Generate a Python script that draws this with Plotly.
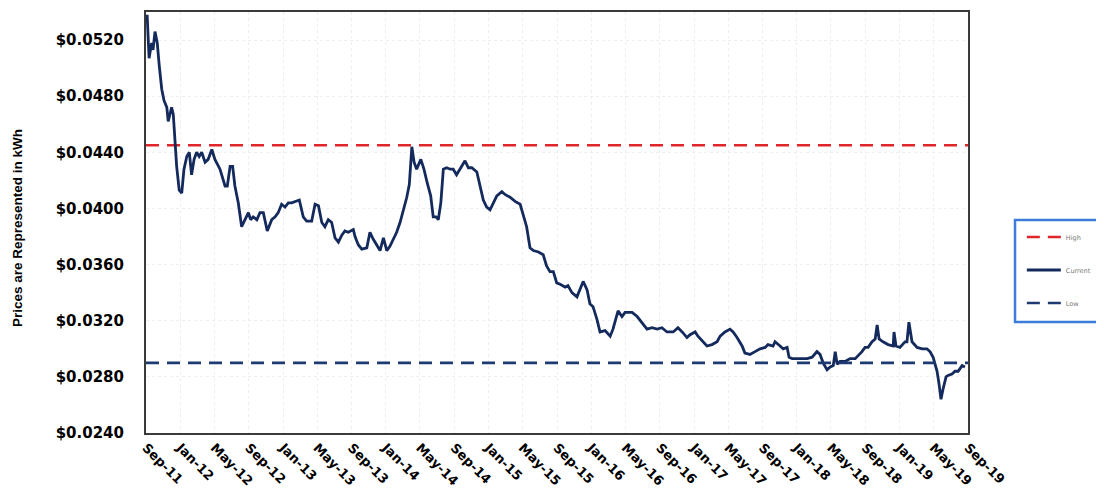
import plotly.graph_objects as go

dates = [
"2011-09-05","2011-09-12","2011-09-21","2011-09-26","2011-10-03","2011-10-11","2011-10-18","2011-10-27",
"2011-11-04","2011-11-14","2011-11-19","2011-12-01","2011-12-07","2011-12-13","2011-12-19","2011-12-28",
"2012-01-06","2012-01-14","2012-01-24","2012-02-02","2012-02-10","2012-02-19","2012-02-28","2012-03-08",
"2012-03-17","2012-03-29","2012-04-09","2012-04-22","2012-05-03","2012-05-21","2012-06-08","2012-06-16",
"2012-06-26","2012-07-05","2012-07-13","2012-07-25","2012-08-06","2012-08-18","2012-08-30","2012-09-07",
"2012-09-16","2012-09-29","2012-10-10","2012-10-22","2012-11-05","2012-11-21","2012-12-03","2012-12-14",
"2012-12-26","2013-01-07","2013-01-19","2013-01-31","2013-02-12","2013-02-27","2013-03-13","2013-03-25",
"2013-04-12","2013-04-24","2013-05-06","2013-05-18","2013-05-29","2013-06-10","2013-06-22","2013-07-04",
"2013-07-16","2013-07-28","2013-08-08","2013-08-20","2013-09-07","2013-09-13","2013-09-25","2013-10-07",
"2013-10-25","2013-11-05","2013-11-17","2013-11-29","2013-12-11","2013-12-23","2014-01-04","2014-01-15",
"2014-01-27","2014-02-08","2014-02-20","2014-03-04","2014-03-16","2014-03-25","2014-04-03","2014-04-11",
"2014-04-20","2014-05-05","2014-05-16","2014-05-28","2014-06-09","2014-06-18","2014-06-28","2014-07-06",
"2014-07-15","2014-07-24","2014-08-05","2014-08-17","2014-08-28","2014-09-09","2014-09-21","2014-10-09",
"2014-10-21","2014-11-02","2014-11-20","2014-12-01","2014-12-13","2014-12-25","2015-01-06","2015-01-18",
"2015-01-30","2015-02-17","2015-02-28","2015-03-18","2015-04-05","2015-04-23","2015-05-04","2015-05-16",
"2015-05-28","2015-06-09","2015-06-27","2015-07-14","2015-07-26","2015-08-07","2015-08-19","2015-08-31",
"2015-09-12","2015-09-30","2015-10-10","2015-10-24","2015-11-11","2015-11-22","2015-12-03","2015-12-17",
"2015-12-27","2016-01-07","2016-01-21","2016-02-01","2016-02-19","2016-03-08","2016-03-18","2016-04-05",
"2016-04-19","2016-04-30","2016-05-25","2016-06-12","2016-06-29","2016-07-17","2016-08-04","2016-08-22",
"2016-09-08","2016-09-26","2016-10-18","2016-11-04","2016-11-19","2016-12-06","2016-12-17","2017-01-04",
"2017-01-14","2017-02-01","2017-02-15","2017-03-05","2017-03-23","2017-04-03","2017-04-20","2017-05-08",
"2017-05-19","2017-06-02","2017-06-20","2017-06-30","2017-07-18","2017-08-05","2017-08-23","2017-09-10",
"2017-09-20","2017-10-08","2017-10-15","2017-11-02","2017-11-13","2017-11-27","2017-12-04","2017-12-15",
"2018-01-01","2018-01-19","2018-02-06","2018-02-24","2018-03-13","2018-03-24","2018-04-04","2018-04-18",
"2018-04-29","2018-05-10","2018-05-17","2018-05-24","2018-06-03","2018-06-21","2018-07-09","2018-07-27",
"2018-08-06","2018-08-20","2018-08-31","2018-09-11","2018-09-25","2018-10-06","2018-10-13","2018-10-20",
"2018-11-03","2018-11-21","2018-12-09","2018-12-12","2018-12-19","2019-01-02","2019-01-20","2019-01-27",
"2019-02-03","2019-02-14","2019-03-04","2019-03-22","2019-04-08","2019-04-19","2019-04-30","2019-05-07",
"2019-05-14","2019-05-21","2019-05-28","2019-06-04","2019-06-15","2019-06-22","2019-07-06","2019-07-17",
"2019-07-28","2019-08-11","2019-08-21",
]

current_price = [
0.0538,0.0507,0.0518,0.0513,0.0526,0.0518,0.0502,0.0485,
0.0477,0.0472,0.0462,0.0472,0.0467,0.0449,0.0430,0.0413,
0.0411,0.0428,0.0437,0.0440,0.0424,0.0435,0.0440,0.0437,
0.0440,0.0433,0.0435,0.0442,0.0435,0.0428,0.0416,0.0416,
0.0430,0.0430,0.0416,0.0404,0.0387,0.0392,0.0397,0.0392,
0.0394,0.0392,0.0397,0.0397,0.0384,0.0392,0.0394,0.0397,
0.0403,0.0401,0.0404,0.0404,0.0405,0.0406,0.0394,0.0391,
0.0391,0.0403,0.0402,0.0390,0.0387,0.0392,0.0390,0.0379,
0.0376,0.0381,0.0384,0.0383,0.0385,0.0380,0.0374,0.0371,
0.0372,0.0383,0.0378,0.0374,0.0370,0.0379,0.0370,0.0373,
0.0378,0.0383,0.0390,0.0399,0.0408,0.0417,0.0444,0.0433,
0.0428,0.0435,0.0428,0.0418,0.0409,0.0394,0.0394,0.0392,
0.0404,0.0428,0.0429,0.0428,0.0428,0.0424,0.0428,0.0434,
0.0429,0.0429,0.0426,0.0416,0.0406,0.0401,0.0399,0.0404,
0.0409,0.0412,0.0410,0.0408,0.0405,0.0403,0.0396,0.0387,
0.0372,0.0370,0.0369,0.0367,0.0359,0.0355,0.0355,0.0347,
0.0346,0.0344,0.0345,0.0340,0.0337,0.0342,0.0348,0.0342,
0.0332,0.0330,0.0321,0.0312,0.0313,0.0309,0.0314,0.0327,
0.0323,0.0326,0.0326,0.0323,0.0319,0.0314,0.0315,0.0314,
0.0315,0.0312,0.0312,0.0315,0.0312,0.0308,0.0310,0.0312,
0.0309,0.0305,0.0302,0.0303,0.0305,0.0309,0.0312,0.0314,
0.0312,0.0308,0.0302,0.0297,0.0296,0.0298,0.0300,0.0301,
0.0303,0.0302,0.0305,0.0302,0.0300,0.0301,0.0294,0.0293,
0.0293,0.0293,0.0293,0.0294,0.0298,0.0296,0.0290,0.0285,
0.0287,0.0288,0.0298,0.0289,0.0291,0.0291,0.0293,0.0293,
0.0295,0.0298,0.0301,0.0301,0.0305,0.0307,0.0317,0.0307,
0.0305,0.0303,0.0302,0.0312,0.0302,0.0301,0.0305,0.0305,
0.0319,0.0305,0.0301,0.0300,0.0300,0.0298,0.0294,0.0289,
0.0284,0.0275,0.0264,0.0271,0.0280,0.0281,0.0282,0.0284,
0.0284,0.0288,0.0287,
]

high_price = 0.0445
low_price = 0.0290
range_start = "2011-09-01"
range_end = "2019-09-01"
y_tick_values = [0.0240, 0.0280, 0.0320, 0.0360, 0.0400, 0.0440, 0.0480, 0.0520]
series_names = ["High", "Current", "Low"]
y_title = "Prices are Represented in kWh"

fig = go.Figure()

fig.add_trace(go.Scatter(
    x=[range_start, range_end], y=[high_price, high_price], mode="lines",
    name=series_names[0], legendgroup="g1",
    line=dict(color="#e0262a", width=2.6, dash="13px,8px"),
    hoverinfo="skip",
))
fig.add_trace(go.Scatter(
    x=dates, y=current_price, mode="lines",
    name=series_names[1], legendgroup="g2",
    line=dict(color="#142a5c", width=2.8),
))
fig.add_trace(go.Scatter(
    x=[range_start, range_end], y=[low_price, low_price], mode="lines",
    name=series_names[2], legendgroup="g3",
    line=dict(color="#1e3a72", width=2.6, dash="13px,8px"),
    hoverinfo="skip",
))

# page body has an 8px margin, so the figure is sized to fill the rest of the window
fig.update_layout(
    width=1096, height=482,
    margin=dict(l=138, r=136, t=4, b=57, autoexpand=False),
    paper_bgcolor="white", plot_bgcolor="white",
    font=dict(family="DejaVu Sans", color="#000000"),
    showlegend=True,
    legend=dict(
        x=1.0655, xanchor="left", y=0.500, yanchor="top",
        borderwidth=0, bgcolor="rgba(0,0,0,0)",
        font=dict(size=6.5, color="#777777", family="DejaVu Sans"),
        tracegroupgap=14, itemwidth=34,
    ),
    shapes=[dict(
        type="rect", xref="paper", yref="paper",
        x0=1.0572, x1=1.1630, y0=0.2637, y1=0.5060,
        line=dict(color="#3b7dd8", width=2.5), fillcolor="rgba(0,0,0,0)",
        layer="below",
    )],
    xaxis=dict(
        type="date", range=[range_start, range_end],
        tick0=range_start, dtick="M4", tickformat="%b-%y",
        tickangle=45, automargin=False,
        tickfont=dict(family="DejaVu Sans", size=13, color="#000000", weight="bold"),
        showgrid=True, gridcolor="#eeeeee", griddash="dot",
        showline=True, mirror=True, linecolor="#3a3a3a", linewidth=2,
        ticks="", zeroline=False,
    ),
    yaxis=dict(
        range=[0.024, 0.054], tickmode="array", tickvals=y_tick_values,
        tickformat="$.4f", automargin=False,
        tickfont=dict(family="DejaVu Sans", size=15, color="#000000", weight="bold"),
        showgrid=True, gridcolor="#eeeeee", griddash="dot",
        showline=True, mirror=True, linecolor="#3a3a3a", linewidth=2,
        ticks="", ticklabelstandoff=17, zeroline=False,
    ),
    annotations=[dict(
        text=y_title, xref="paper", yref="paper",
        x=-0.1557, y=0.487, xanchor="center", yanchor="middle",
        textangle=-90, showarrow=False,
        font=dict(family="Liberation Sans Narrow, Liberation Sans", size=13.5, color="#000000", weight="bold"),
    )],
)

fig.write_html("out.html")
